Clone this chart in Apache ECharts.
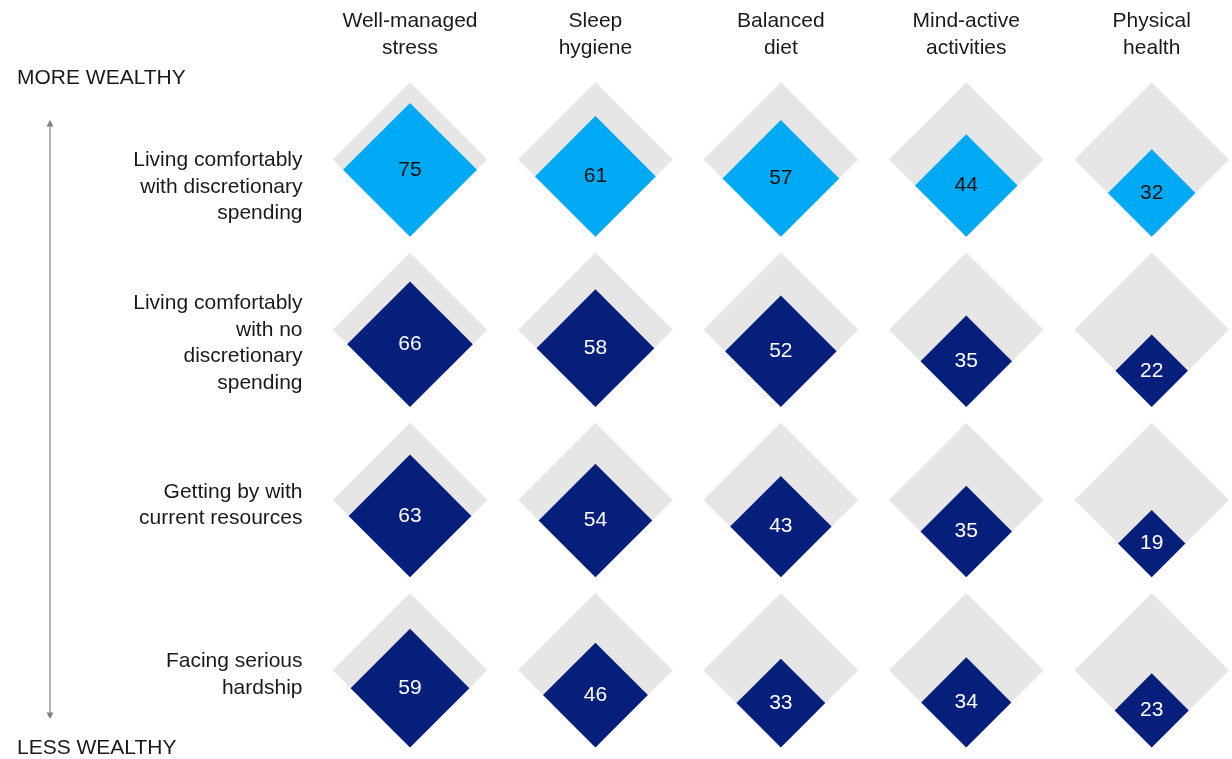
<!DOCTYPE html>
<html>
<head>
<meta charset="utf-8">
<title>Wellness behaviours by financial situation</title>
<script src="https://cdn.jsdelivr.net/npm/echarts@6/dist/echarts.min.js"></script>
<style>
  html, body { margin: 0; padding: 0; background: #ffffff; }
  #chart { width: 1232px; height: 759px; }
</style>
</head>
<body>
<div id="chart"></div>
<script>
// Wellness dimensions (columns) and financial situations (rows, most to least wealthy)
const columns = ['Well-managed\nstress', 'Sleep\nhygiene', 'Balanced\ndiet', 'Mind-active\nactivities', 'Physical\nhealth'];
const rowLabels = [
  'Living comfortably\nwith discretionary\nspending',
  'Living comfortably\nwith no\ndiscretionary\nspending',
  'Getting by with\ncurrent resources',
  'Facing serious\nhardship'
];

// Share of respondents (%) per row, one value per column
const livingComfortablyDiscretionary = [75, 61, 57, 44, 32];
const livingComfortablyNoDiscretionary = [66, 58, 52, 35, 22];
const gettingBy = [63, 54, 43, 35, 19];
const facingHardship = [59, 46, 33, 34, 23];
const rowValues = [livingComfortablyDiscretionary, livingComfortablyNoDiscretionary, gettingBy, facingHardship];

const FULL_SCALE = 100;

// Styling
const FONT = '"Liberation Sans", Arial, sans-serif';
const TEXT_COLOR = '#1a1a1a';
const TRACK_COLOR = '#e6e6e6';
const HIGHLIGHT_COLOR = '#00a9f4';
const BASE_COLOR = '#061f7a';
const CELL_RATIO = 0.417;              // half-diagonal of the 100% diamond, as a share of column spacing
const ROW_LABEL_SHIFT = [55, 26.5, 10, 9.5]; // vertical nudge for row labels

// Flatten into [col, row, value] triples
const cells = [];
rowValues.forEach((vals, r) => vals.forEach((v, c) => cells.push([c, r, v])));

function diamond(cx, cy, h) {
  return [[cx, cy - h], [cx + h, cy], [cx, cy + h], [cx - h, cy]];
}

function renderItem(params, api) {
  const col = api.value(0);
  const row = api.value(1);
  const val = api.value(2);
  const center = api.coord([col, row]);
  const full = api.size([1, 0])[0] * CELL_RATIO;
  // area-proportional diamond, sharing the bottom vertex of the 100% track
  const half = full * Math.sqrt(val / FULL_SCALE);
  const cy = center[1] + full - half;
  const fill = row === 0 ? HIGHLIGHT_COLOR : BASE_COLOR;
  const txt = row === 0 ? '#111111' : '#ffffff';
  return {
    type: 'group',
    children: [
      { type: 'polygon', shape: { points: diamond(center[0], center[1], full) }, style: { fill: TRACK_COLOR } },
      { type: 'polygon', shape: { points: diamond(center[0], cy, half) }, style: { fill: fill } },
      {
        type: 'text',
        style: {
          x: center[0], y: cy, text: String(val),
          align: 'center', verticalAlign: 'middle',
          fill: txt, font: '21px ' + FONT
        }
      }
    ]
  };
}

const rowRich = { t: { fontFamily: FONT, fontSize: 21, lineHeight: 26.5, color: TEXT_COLOR, align: 'right' } };
ROW_LABEL_SHIFT.forEach((h, i) => { rowRich['p' + i] = { fontSize: 1, lineHeight: h, height: h }; });

const chart = echarts.init(document.getElementById('chart'), null, { renderer: 'canvas' });
chart.setOption({
  backgroundColor: '#ffffff',
  animation: false,
  grid: { left: 410, right: 80.3, top: 159.5, bottom: 88.8, containLabel: false },
  xAxis: {
    type: 'value', position: 'top', min: 0, max: columns.length - 1, interval: 1,
    axisLine: { show: false }, axisTick: { show: false }, splitLine: { show: false },
    axisLabel: {
      margin: 98, fontFamily: FONT, fontSize: 21, lineHeight: 27, color: TEXT_COLOR, align: 'center',
      formatter: v => columns[Math.round(v)]
    }
  },
  yAxis: {
    type: 'value', inverse: true, min: 0, max: rowLabels.length - 1, interval: 1,
    axisLine: { show: false }, axisTick: { show: false }, splitLine: { show: false },
    axisLabel: {
      margin: 107.5, align: 'right',
      formatter: v => {
        const i = Math.round(v);
        return '{p' + i + '| }\n' + rowLabels[i].split('\n').map(s => '{t|' + s + '}').join('\n');
      },
      rich: rowRich
    }
  },
  graphic: [
    { type: 'text', left: 17, top: 68, style: { text: 'MORE WEALTHY', font: '21px ' + FONT, fill: TEXT_COLOR } },
    { type: 'text', left: 17, top: 738, style: { text: 'LESS WEALTHY', font: '21px ' + FONT, fill: TEXT_COLOR } },
    { type: 'line', shape: { x1: 50, y1: 124, x2: 50, y2: 715 }, style: { stroke: '#808080', lineWidth: 1.2 } },
    { type: 'polygon', shape: { points: [[50, 120], [53.5, 126.5], [46.5, 126.5]] }, style: { fill: '#808080' } },
    { type: 'polygon', shape: { points: [[50, 719], [53.5, 712.5], [46.5, 712.5]] }, style: { fill: '#808080' } }
  ],
  series: [{
    type: 'custom',
    coordinateSystem: 'cartesian2d',
    renderItem: renderItem,
    data: cells,
    encode: { x: 0, y: 1 }
  }]
});
</script>
</body>
</html>
